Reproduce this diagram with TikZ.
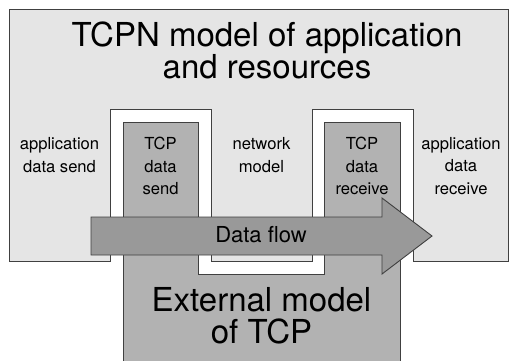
\documentclass[tikz,border=0pt]{standalone}
\usepackage{fontspec}
\setmainfont{TeX Gyre Heros}
\definecolor{paleGray}{gray}{0.9}
\definecolor{tcpGray}{gray}{0.7}
\definecolor{flowGray}{gray}{0.6}
\definecolor{edgeGray}{gray}{0.25}
\tikzset{
  region/.style={draw=edgeGray, line width=0.9bp, line join=miter},
  bigtext/.style={align=center, font=\fontsize{33bp}{31.6bp}\selectfont},
  smalltext/.style={align=center, font=\fontsize{16.6bp}{22.5bp}\selectfont},
}
\begin{document}
\begin{tikzpicture}[x=1bp,y=1bp]
        \tikzstyle{every node}+=[inner sep=0pt]
        \useasboundingbox (0,0) rectangle (509,-360);
        \clip (0,0) rectangle (509,-360);
        % TCPN model, with the white gap round the TCP part cut out
        \draw [region, fill=paleGray] (9,-9) -- (508,-9) -- (508,-261) -- (413,-261) -- (413,-109)
              -- (312,-109) -- (312,-261) -- (211,-261) -- (211,-109) -- (110,-109) -- (110,-261)
              -- (9,-261) -- cycle;
        % external model of TCP
        \draw [region, fill=tcpGray] (123,-122) -- (198,-122) -- (198,-274) -- (324,-274) -- (324,-122)
              -- (400,-122) -- (400,-370) -- (123,-370) -- cycle;
        % data flow arrow
        \draw [region, fill=flowGray] (91,-217) -- (382,-217) -- (382,-198) -- (432,-236) -- (382,-274)
              -- (382,-255) -- (91,-255) -- cycle;
        \node [bigtext] (tcpn) at (267,-50.5) {TCPN model of application\\and resources};
        \node [smalltext] (appsend) at (59.5,-155) {application\\data send};
        \node [smalltext] (tcpsend) at (160.5,-166) {TCP\\data\\send};
        \node [smalltext] (network) at (261.5,-155) {network\\model};
        \node [smalltext] (tcprecv) at (362,-166) {TCP\\data\\receive};
        \node [smalltext] (apprecv) at (461,-166) {application\\data\\receive};
        \node [font=\fontsize{22bp}{26bp}\selectfont, anchor=base] (flow) at (261,-242.7) {Data flow};
        \node [bigtext] (external) at (261.5,-316) {External model\\of TCP};
\end{tikzpicture}
\end{document}
